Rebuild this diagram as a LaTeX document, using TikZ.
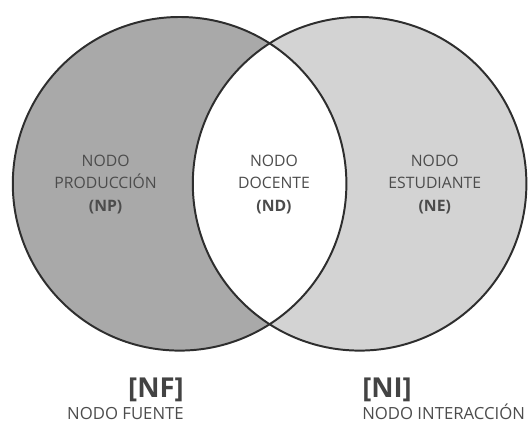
\documentclass[tikz,border=0pt]{standalone}
\usepackage{fontspec}
\setmainfont{Open Sans}
\usetikzlibrary{positioning}
\definecolor{setdark}{HTML}{A9A9A9}
\definecolor{setlight}{HTML}{D3D3D3}
\definecolor{rim}{HTML}{2E2E2E}
\definecolor{labelgray}{HTML}{4C4C4C}
\tikzset{
  rimline/.style={draw=rim, line width=1.4pt},
  setlabel/.style={align=center, text=labelgray,
                   font=\fontsize{11.2}{16}\selectfont},
  tag/.style={text=rim!90, inner sep=0pt,
              font=\fontsize{19.5}{22}\selectfont\bfseries},
  tagname/.style={text=labelgray, inner sep=0pt,
                  font=\fontsize{11.9}{14}\selectfont}
}

\begin{document}
\begin{tikzpicture}
  \useasboundingbox (0,0) rectangle (13.225,10.575);
  \coordinate (cp) at (4.49,5.98);
  \coordinate (ce) at (8.99,5.98);

  % the two sets and their white overlap
  \fill[setdark] (cp) circle (4.17);
  \fill[setlight] (ce) circle (4.17);
  \begin{scope}
    \clip (cp) circle (4.17);
    \fill[white] (ce) circle (4.17);
  \end{scope}
  \draw[rimline] (cp) circle (4.17);
  \draw[rimline] (ce) circle (4.17);

  \node[setlabel] (np) at (2.64,5.97) {NODO\\PRODUCCIÓN\\\textbf{(NP)}};
  \node[setlabel] (nd) at (6.85,5.97) {NODO\\DOCENTE\\\textbf{(ND)}};
  \node[setlabel] (ne) at (10.87,5.97) {NODO\\ESTUDIANTE\\\textbf{(NE)}};

  % names under the circles
  \node[tag, anchor=base east] (nf) at (4.6,0.63) {[NF]};
  \node[tagname, below=0.55cm of nf.base east, anchor=base east] (nfname) {NODO FUENTE};
  \node[tag, anchor=base west] (ni) at (9.05,0.63) {[NI]};
  \node[tagname, below=0.55cm of ni.base west, anchor=base west] (niname) {NODO INTERACCIÓN};
\end{tikzpicture}
\end{document}
